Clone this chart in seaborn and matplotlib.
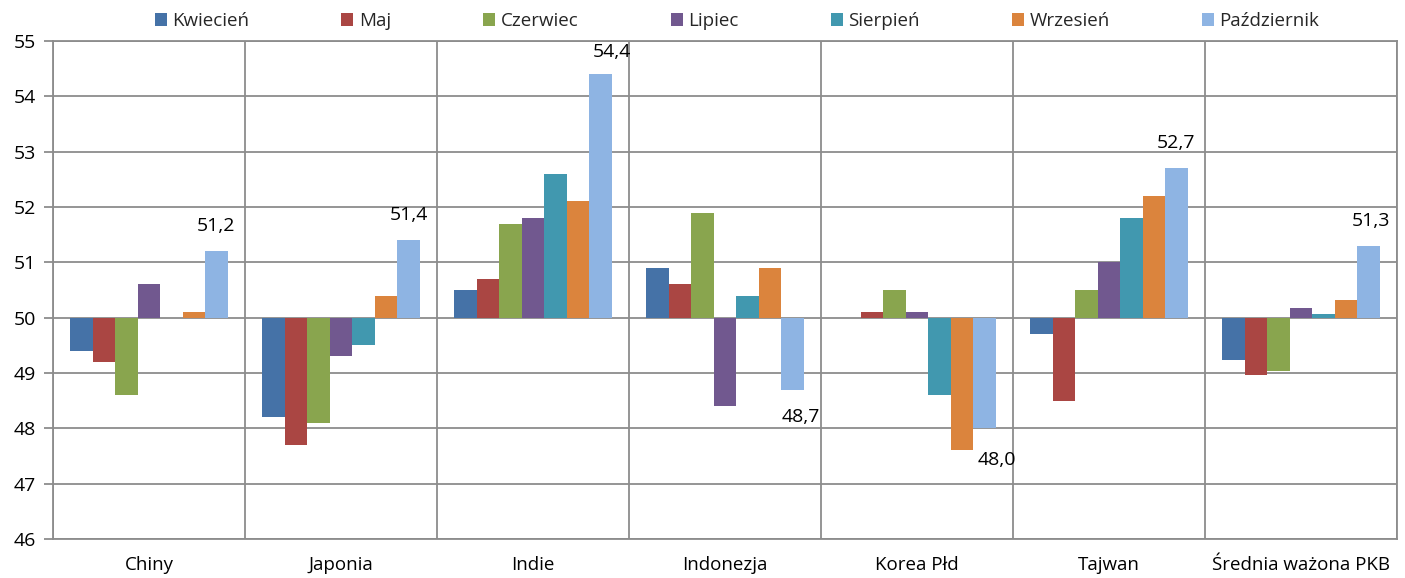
import numpy as np
import pandas as pd
import matplotlib
matplotlib.use("Agg")
import matplotlib.pyplot as plt
from matplotlib.ticker import FuncFormatter, FixedLocator
import seaborn as sns

categories = ["Chiny", "Japonia", "Indie", "Indonezja", "Korea Płd", "Tajwan", "Średnia ważona PKB"]
months = ["Kwiecień", "Maj", "Czerwiec", "Lipiec", "Sierpień", "Wrzesień", "Październik"]

kwiecien = [49.4, 48.2, 50.5, 50.9, 50.0, 49.7, 49.24]
maj = [49.2, 47.7, 50.7, 50.6, 50.1, 48.5, 48.97]
czerwiec = [48.6, 48.1, 51.7, 51.9, 50.5, 50.5, 49.04]
lipiec = [50.6, 49.3, 51.8, 48.4, 50.1, 51.0, 50.18]
sierpien = [50.0, 49.5, 52.6, 50.4, 48.6, 51.8, 50.06]
wrzesien = [50.1, 50.4, 52.1, 50.9, 47.6, 52.2, 50.32]
pazdziernik = [51.2, 51.4, 54.4, 48.7, 48.0, 52.7, 51.3]
label_texts = ["51,2", "51,4", "54,4", "48,7", "48,0", "52,7", "51,3"]

baseline = 50
colors = ["#4572A7", "#AA4643", "#89A54E", "#71588F", "#4198AF", "#DB843D", "#8EB4E3"]

series = [kwiecien, maj, czerwiec, lipiec, sierpien, wrzesien, pazdziernik]
rows = []
for m, vals in zip(months, series):
    for c, v in zip(categories, vals):
        rows.append({"kraj": c, "miesiac": m, "wartosc": v, "odchylenie": v - baseline})
df = pd.DataFrame(rows)

sns.set_theme(style="white")
plt.rcParams["font.family"] = ["Open Sans", "DejaVu Sans"]

fig = plt.figure(figsize=(14.05, 5.78), dpi=100)
ax = fig.add_axes([53 / 1405, 1 - 539 / 578, (1397 - 53) / 1405, (539 - 41) / 578])

sns.barplot(data=df, x="kraj", y="odchylenie", hue="miesiac", order=categories,
            hue_order=months, palette=colors, saturation=1, width=0.82, ax=ax,
            edgecolor="none", linewidth=0, errorbar=None, legend=True, zorder=3)

ax.set_ylim(46 - baseline, 55 - baseline)
ax.set_xlim(-0.5, len(categories) - 0.5)
ax.yaxis.set_major_locator(FixedLocator(np.arange(46, 56) - baseline))
ax.yaxis.set_major_formatter(FuncFormatter(lambda v, p: f"{v + baseline:.0f}"))
ax.set_xticks(np.arange(-0.5, len(categories), 1), minor=True)

grid_color = "#8C8C8C"
ax.grid(axis="y", which="major", color=grid_color, linewidth=1.3)
ax.grid(axis="x", which="minor", color=grid_color, linewidth=1.3)
ax.grid(axis="x", which="major", visible=False)
ax.set_axisbelow(True)
for s in ax.spines.values():
    s.set_visible(True)
    s.set_color(grid_color)
    s.set_linewidth(1.3)

ax.tick_params(axis="y", which="major", left=True, length=6.5, width=1.3, color=grid_color,
               pad=6, labelsize=14, labelcolor="#000000")
ax.tick_params(axis="x", which="major", length=0, pad=12, labelsize=13.5, labelcolor="#000000")
ax.tick_params(axis="x", which="minor", length=0)
ax.set_xlabel("")
ax.set_ylabel("")

# data labels for the last series (Październik)
offsets = [(0, 18), (0, 18), (8, 16), (6, -20), (9, -23), (0, 18), (2, 18)]
last = ax.containers[-1]
for bar, txt, (dx, dy) in zip(last.patches, label_texts, offsets):
    x = bar.get_x() + bar.get_width() / 2
    h = bar.get_height()
    y = bar.get_y() + h
    ax.annotate(txt, xy=(x, y), xytext=(dx, dy), textcoords="offset points",
                ha="center", va="center", fontsize=14, color="#000000")

leg = ax.get_legend()
handles = leg.legend_handles
leg.remove()
fig.legend(handles, months, loc="center", bbox_to_anchor=(737 / 1405, 1 - 21 / 578),
           ncol=7, frameon=False, fontsize=13.5, handlelength=0.65, handleheight=0.65,
           handletextpad=0.3, columnspacing=4.9, borderaxespad=0)

fig.savefig("out.png", dpi=100)
